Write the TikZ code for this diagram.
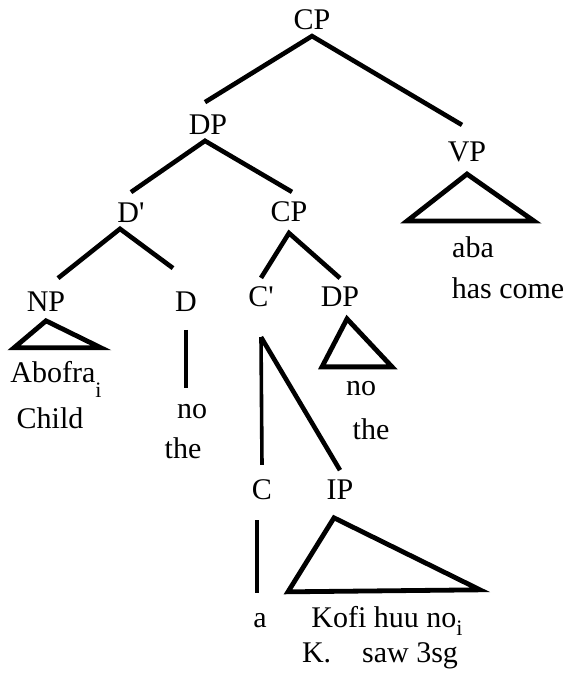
\documentclass[tikz,border=0pt]{standalone}
\usepackage{fontspec}
\setmainfont{Liberation Serif}
\newcommand{\lowidx}[2]{\raisebox{#1}{\fontsize{22}{22}\selectfont #2}}
\tikzset{
  cat/.style={inner sep=6pt, outer sep=0pt},
  leaf/.style={inner sep=6pt, outer sep=0pt, anchor=base},
  branch/.style={line width=4.6pt, line join=miter},
  stem/.style={line width=3.6pt},
  roof/.style={line width=4.8pt, line join=miter},
}
\begin{document}
\begin{tikzpicture}[x=1pt, y=-1pt, font=\fontsize{30}{34}\selectfont]
\useasboundingbox (0,0) rectangle (569,681);

\node[cat] (cp1) at (312,20) {CP};
\node[cat] (dp1) at (208,125) {DP};
\node[cat] (vp) at (467,152) {VP};
\node[cat] (dbar) at (131,213) {D\textquotesingle};
\node[cat] (cp2) at (289,212) {CP};
\node[cat] (np) at (46,302) {NP};
\node[cat] (d) at (186,302) {D};
\node[cat] (cbar) at (261,297) {C\textquotesingle};
\node[cat] (dp2) at (340,297) {DP};
\node[cat] (c) at (262,490) {C};
\node[cat] (ip) at (340,490) {IP};

\node[leaf] (abofra) at (56,382) {Abofra\lowidx{-15pt}{i}};
\node[leaf] (child) at (50,428) {Child};
\node[leaf] (no1) at (192,418) {no};
\node[leaf] (the1) at (183,458) {the};
\node[leaf] (no2) at (361,395) {no};
\node[leaf] (the2) at (371,439) {the};
\node[leaf] (aba) at (473,257) {aba};
\node[leaf] (hascome) at (508,298) {has come};
\node[leaf] (a) at (260,627) {a};
\node[leaf] (kofi) at (387,627) {Kofi huu no\lowidx{-8pt}{i}};
\node[leaf] (gloss) at (380,662) {K.\hspace{31pt}saw 3sg};

\draw[branch] ([xshift=-3pt,yshift=7pt]dp1.north) -- (cp1.south) -- ([xshift=-5pt,yshift=11pt]vp.north);
\draw[branch] ([yshift=5pt]dbar.north) -- ([xshift=-3pt]dp1.south) -- ([xshift=3pt,yshift=4pt]cp2.north);
\draw[branch] ([xshift=12pt,yshift=8pt]np.north) -- ([xshift=-11pt]dbar.south) -- ([xshift=-13pt,yshift=18pt]d.north);
\draw[branch] ([yshift=3pt]cbar.north) -- ([yshift=-5pt]cp2.south) -- ([yshift=3pt]dp2.north);
\draw[stem] ([yshift=9pt]c.north) -- ([yshift=-24pt]cbar.south);
\draw[branch] ([yshift=-24pt]cbar.south) -- ([yshift=4pt]ip.north);
\draw[stem] ([yshift=-12pt]d.south) -- ([yshift=10pt]d.south |- no1.north);
\draw[stem] ([xshift=-5pt,yshift=-14pt]c.south) -- ([xshift=-5pt,yshift=14pt]c.south |- a.north);

\draw[roof] ([yshift=-3pt]np.south) -- ++(-32,27) -- ++(87,0) -- cycle;
\draw[roof] ([xshift=7pt,yshift=-6pt]dp2.south) -- ++(-25,48) -- ++(70,0) -- cycle;
\draw[roof] ([yshift=-6pt]vp.south) -- ++(-60,47) -- ++(127,0) -- cycle;
\draw[roof] ([xshift=-6pt,yshift=-12pt]ip.south) -- ++(-46,74) -- ++(192,-2) -- cycle;

\end{tikzpicture}
\end{document}
